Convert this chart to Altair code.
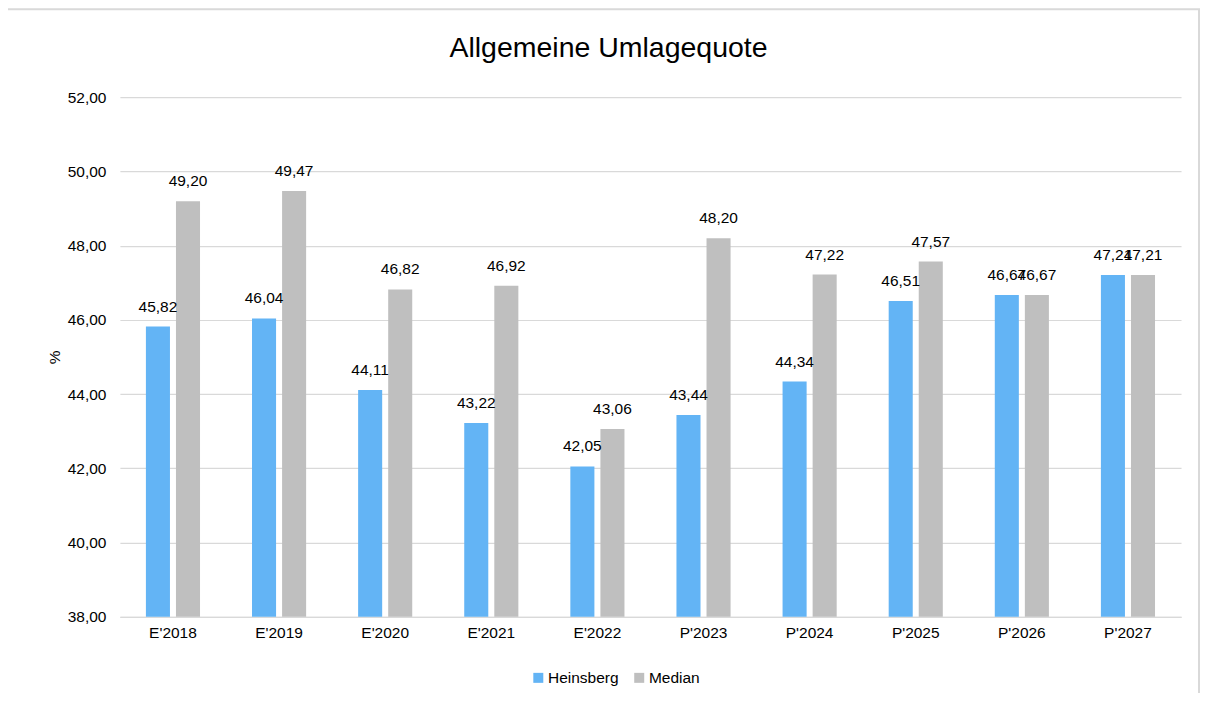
import altair as alt
import pandas as pd

years = ["E'2018", "E'2019", "E'2020", "E'2021", "E'2022", "P'2023", "P'2024", "P'2025", "P'2026", "P'2027"]
heinsberg = [45.82, 46.04, 44.11, 43.22, 42.05, 43.44, 44.34, 46.51, 46.67, 47.21]
median = [49.20, 49.47, 46.82, 46.92, 43.06, 48.20, 47.22, 47.57, 46.67, 47.21]
series = ["Heinsberg", "Median"]
colors = ["#63b4f5", "#bfbfbf"]

rows = []
for i, y in enumerate(years):
    rows.append({"Jahr": y, "Reihe": series[0], "Wert": heinsberg[i]})
    rows.append({"Jahr": y, "Reihe": series[1], "Wert": median[i]})
df = pd.DataFrame(rows)

FONT = "Liberation Sans"
FS = 15.5

x = alt.X("Jahr:N", sort=years, title=None,
          scale=alt.Scale(paddingInner=0.49, paddingOuter=0.245),
          axis=alt.Axis(labelAngle=0, labelFontSize=FS, labelColor="#000000", labelPadding=9,
                        ticks=False, domain=True, domainColor="#d9d9d9", domainWidth=1.2,
                        labelFont=FONT))
xo = alt.XOffset("Reihe:N", sort=series, scale=alt.Scale(paddingInner=0.2, paddingOuter=0))
y = alt.Y("Wert:Q", title="%",
          scale=alt.Scale(domain=[38, 52], zero=False, nice=False),
          axis=alt.Axis(values=[38, 40, 42, 44, 46, 48, 50, 52],
                        labelExpr="replace(format(datum.value, '.2f'), '.', ',')",
                        labelFontSize=FS, labelColor="#000000", labelPadding=14,
                        ticks=False, domain=False, gridColor="#d9d9d9", gridWidth=1.2,
                        titleFontSize=FS, titleFontWeight="normal", titleColor="#000000",
                        titlePadding=5, labelFont=FONT, titleFont=FONT))
color = alt.Color("Reihe:N", sort=series, title=None,
                  scale=alt.Scale(domain=series, range=colors),
                  legend=alt.Legend(orient="none", legendX=411, legendY=573,
                                    direction="horizontal", symbolType="square",
                                    symbolSize=100, labelFontSize=FS, labelColor="#000000",
                                    columnPadding=12, symbolStrokeWidth=0, labelOffset=2,
                                    labelFont=FONT))

base = alt.Chart(df)
bars = base.mark_bar(clip=True).encode(x=x, xOffset=xo, y=y, color=color)
labels = base.transform_calculate(
    label="replace(format(datum.Wert, '.2f'), '.', ',')"
).mark_text(baseline="bottom", dy=-12, fontSize=FS, color="#000000", font=FONT).encode(
    x=x, xOffset=xo, y=y, text="label:N")

border = alt.Chart(pd.DataFrame({"a": [0]})).mark_rect(
    fill=None, stroke="#d9d9d9", strokeWidth=2, clip=False
).encode(x=alt.value(-113), x2=alt.value(1080), y=alt.value(-88), y2=alt.value(700))

chart = alt.layer(border, bars, labels).properties(
    width=1062, height=520,
    background="#ffffff",
    title=alt.TitleParams("Allgemeine Umlagequote", fontSize=28.5, fontWeight="normal",
                          color="#000000", font=FONT, anchor="middle", offset=0,
                          baseline="alphabetic", dy=77, dx=-42, frame="group"),
    autosize=alt.AutoSizeParams(type="none"),
    padding={"left": 112, "top": 89, "right": 20, "bottom": 76},
).configure_view(stroke=None)

chart.save("out.html", embed_options={"renderer": "svg", "actions": False})
